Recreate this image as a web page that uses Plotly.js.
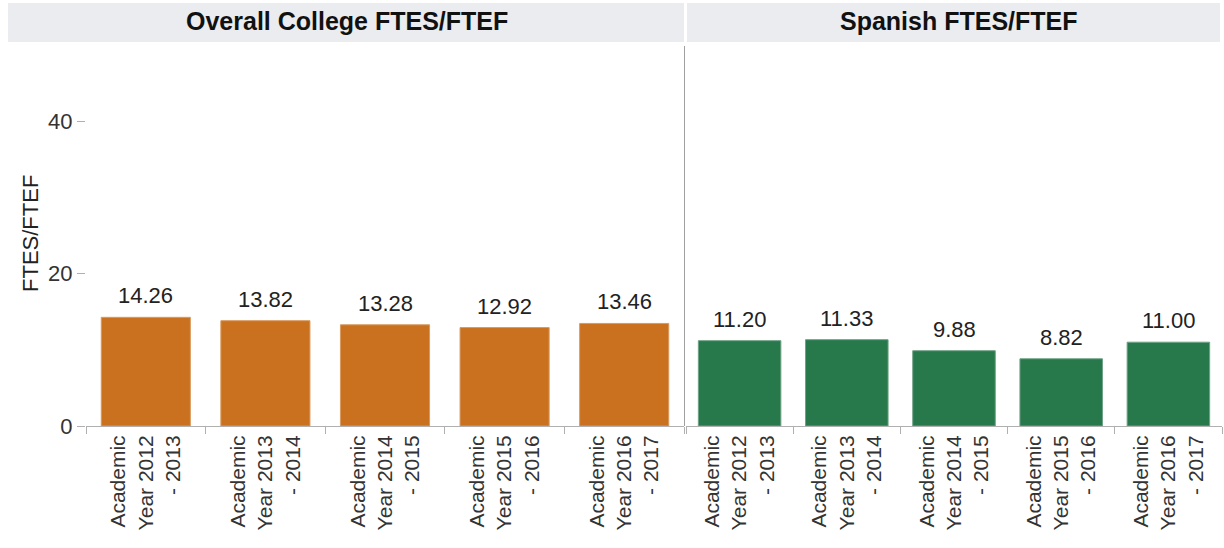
<!DOCTYPE html>
<html><head><meta charset="utf-8">
<script src="https://cdn.plot.ly/plotly-3.0.1.min.js"></script>
<style>html,body{margin:0;padding:0;background:#fff}#chart{width:1224px;height:548px}</style>
</head><body><div id="chart"></div>
<script>
const categories = ["Academic<br>Year 2012<br>- 2013","Academic<br>Year 2013<br>- 2014","Academic<br>Year 2014<br>- 2015","Academic<br>Year 2015<br>- 2016","Academic<br>Year 2016<br>- 2017"];
const overallValues = [14.26, 13.82, 13.28, 12.92, 13.46];
const spanishValues = [11.20, 11.33, 9.88, 8.82, 11.00];
const panelTitles = ["Overall College FTES/FTEF", "Spanish FTES/FTEF"];
const yTicks = [0, 20, 40];

const W = 1224, H = 548;
const px = v => v / W, py = v => 1 - v / H;
const FONT = "Liberation Sans, Arial, sans-serif";

const traces = [
  {type:'bar', x:categories, y:overallValues, xaxis:'x', yaxis:'y', width:0.745,
   marker:{color:'#C9711F', line:{color:'#d89a5e', width:1}}, hoverinfo:'x+y'},
  {type:'bar', x:categories, y:spanishValues, xaxis:'x2', yaxis:'y2', width:0.77,
   marker:{color:'#27784B', line:{color:'#6fa386', width:1}}, hoverinfo:'x+y'}
];

const xCommon = {
  type:'category', showline:true, linecolor:'#b0b0b0', linewidth:1,
  ticks:'outside', tickson:'boundaries', ticklen:7, tickcolor:'#b0b0b0',
  tickangle:-90, tickfont:{family:FONT, size:21, color:'#333'},
  showgrid:false, zeroline:false, fixedrange:true
};
const yCommon = {
  range:[0,50], domain:[py(426), py(45)], showgrid:false, zeroline:false,
  fixedrange:true
};

const annotations = [];
overallValues.forEach((v,i)=>annotations.push({xref:'x', yref:'y', x:categories[i], y:v, text:v.toFixed(2),
  showarrow:false, xanchor:'center', yanchor:'bottom', yshift:7, font:{family:FONT, size:22, color:'#222'}}));
spanishValues.forEach((v,i)=>annotations.push({xref:'x2', yref:'y2', x:categories[i], y:v, text:v.toFixed(2),
  showarrow:false, xanchor:'center', yanchor:'bottom', yshift:7, font:{family:FONT, size:22, color:'#222'}}));
annotations.push({xref:'paper', yref:'paper', x:px(346.5), y:py(21), xanchor:'center', yanchor:'middle', text:'<b>'+panelTitles[0]+'</b>',
  showarrow:false, font:{family:FONT, size:25, color:'#111'}});
annotations.push({xref:'paper', yref:'paper', x:px(959), y:py(21), xanchor:'center', yanchor:'middle', text:'<b>'+panelTitles[1]+'</b>',
  showarrow:false, font:{family:FONT, size:25, color:'#111'}});
annotations.push({xref:'paper', yref:'paper', x:px(30), y:py(234), xanchor:'center', yanchor:'middle', text:'FTES/FTEF', textangle:-90,
  showarrow:false, font:{family:FONT, size:22, color:'#222'}});

const layout = {
  width:W, height:H, margin:{l:0,r:0,t:0,b:0}, paper_bgcolor:'#fff', plot_bgcolor:'rgba(0,0,0,0)',
  showlegend:false, font:{family:FONT},
  xaxis:Object.assign({}, xCommon, {domain:[px(86), px(684)], anchor:'y'}),
  xaxis2:Object.assign({}, xCommon, {domain:[px(686), px(1222)], anchor:'y2'}),
  yaxis:Object.assign({}, yCommon, {anchor:'x', tickvals:yTicks, ticks:'outside', ticklen:8, tickcolor:'#b0b0b0',
    tickfont:{family:FONT, size:22, color:'#333'}, showline:false}),
  yaxis2:Object.assign({}, yCommon, {anchor:'x2', showticklabels:false, ticks:'', showline:false}),
  annotations:annotations,
  shapes:[
    {type:'rect', xref:'paper', yref:'paper', x0:px(8), x1:px(684), y0:py(42), y1:py(3), fillcolor:'#EBECEF', line:{width:0}, layer:'below'},
    {type:'rect', xref:'paper', yref:'paper', x0:px(687), x1:px(1220), y0:py(42), y1:py(3), fillcolor:'#EBECEF', line:{width:0}, layer:'below'},
    {type:'line', xref:'paper', yref:'paper', x0:px(684.5), x1:px(684.5), y0:py(426), y1:py(46), line:{color:'#a0a0a0', width:1}}
  ]
};
Plotly.newPlot('chart', traces, layout, {displayModeBar:false, staticPlot:true});
</script></body></html>
